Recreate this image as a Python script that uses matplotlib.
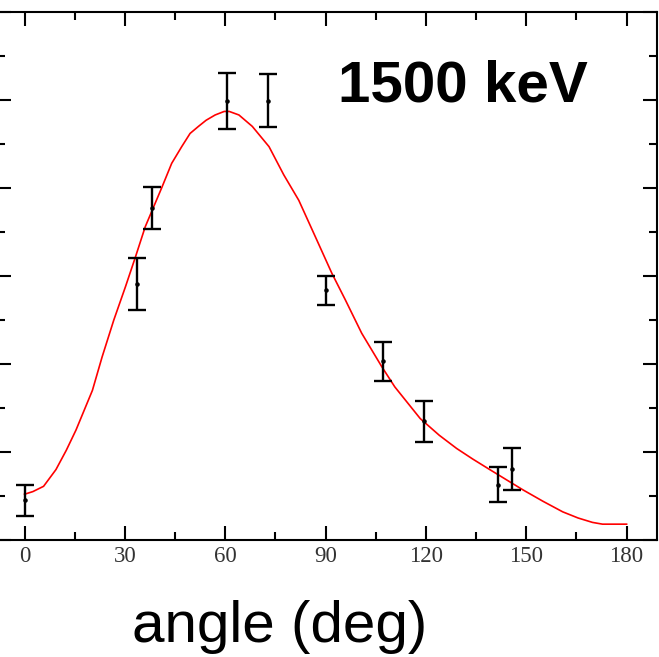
import numpy as np
import matplotlib
matplotlib.use('Agg')
import matplotlib.pyplot as plt
from matplotlib.ticker import MultipleLocator

# measured points
angle = [0.0, 33.7, 38.0, 60.4, 72.7, 90.1, 107.3, 119.4, 141.5, 145.8]
value = [0.45, 2.91, 3.77, 4.99, 4.99, 2.84, 2.03, 1.35, 0.63, 0.81]
err = [0.18, 0.30, 0.24, 0.32, 0.30, 0.165, 0.22, 0.235, 0.20, 0.24]

# fitted curve
fit_angle = [0, 2.5, 5.7, 9.4, 12.5, 15.4, 20.3, 23.2, 26.7, 30.2, 33.2, 36.1,
             41.1, 44.0, 47.0, 49.5, 52.0, 54.3, 57.0, 59.7, 61.2, 64.1, 68.1,
             73.1, 77.5, 82.0, 86.9, 91.9, 95.9, 100.8, 106.8, 110.7, 118.3,
             124.0, 129.2, 134.0, 139.1, 149.0, 155.0, 160.9, 165.5, 169.8,
             172.8, 180]
fit_value = [0.52, 0.55, 0.61, 0.80, 1.02, 1.25, 1.70, 2.08, 2.50, 2.88, 3.22, 3.56,
             4.01, 4.28, 4.47, 4.62, 4.70, 4.77, 4.83, 4.87, 4.87, 4.83, 4.70,
             4.47, 4.15, 3.86, 3.45, 3.03, 2.73, 2.35, 1.97, 1.74, 1.38,
             1.19, 1.04, 0.92, 0.80, 0.57, 0.44, 0.32, 0.25, 0.20,
             0.18, 0.18]

xticks = [0, 30, 60, 90, 120, 150, 180]

W, H = 659, 657
fig = plt.figure(figsize=(W/100, H/100), dpi=100)
L, R, T, B = -3, 657, 12, 540
ax = fig.add_axes([L/W, (H-B)/H, (R-L)/W, (B-T)/H])

ax.plot(fit_angle, fit_value, color='red', lw=1.2)
ax.errorbar(angle, value, yerr=err, fmt='.', color='black', ms=4.5,
            capsize=6.5, elinewidth=1.7, capthick=1.7)

px_deg = 3.345
ax.set_xlim((L-24.5)/px_deg, (R-24.5)/px_deg)
ax.set_ylim(0, 6)
ax.set_xticks(xticks)
ax.set_xticklabels([str(t) for t in xticks], family='Liberation Serif',
                   fontsize=16.5, color='#333333')
ax.xaxis.set_minor_locator(MultipleLocator(15))
ax.yaxis.set_major_locator(MultipleLocator(1))
ax.yaxis.set_minor_locator(MultipleLocator(0.5))
ax.set_yticklabels([])
ax.tick_params(which='both', direction='in', top=True, right=True, width=1.5)
ax.tick_params(which='major', length=10, pad=4)
ax.tick_params(which='minor', length=5.5)
for s in ax.spines.values():
    s.set_linewidth(1.5)

fig.text(338/W, 1-102/H, '1500 keV', family='Liberation Sans', fontweight='bold',
         fontsize=42, ha='left', va='baseline')
fig.text(280/W, 1-642/H, 'angle (deg)', family='Liberation Sans',
         fontsize=42, ha='center', va='baseline')

fig.savefig('out.png', dpi=100)
